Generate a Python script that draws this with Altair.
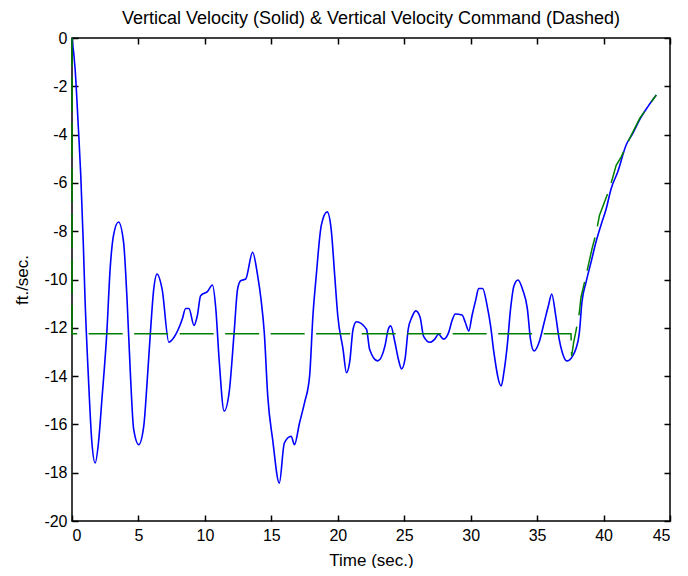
import altair as alt
import pandas as pd

# Vertical velocity (solid, blue)
vel_t = [0.0, 0.23, 0.48, 0.66, 0.85, 0.98, 1.23, 1.49, 1.74, 1.99, 2.25, 2.62, 2.87, 3.12, 3.5,
         3.88, 4.14, 4.39, 4.64, 5.02, 5.4, 5.65, 5.9, 6.15, 6.4, 6.78, 7.29, 7.67, 8.3, 8.55,
         8.8, 9.18, 9.43, 9.68, 10.19, 10.57, 10.82, 11.07, 11.45, 11.82, 12.2, 12.46, 12.7, 13.07,
         13.59, 13.97, 14.22, 14.47, 14.73, 15.1, 15.6, 15.98, 16.49, 16.74, 17.12, 17.5, 17.88,
         18.13, 18.38, 18.76, 19.2, 19.5, 19.77, 20.0, 20.4, 20.65, 20.9, 21.15, 21.4, 22.16,
         22.4, 23.0, 23.55, 23.8, 23.98, 24.3, 24.56, 24.8, 25.06, 25.3, 25.57, 25.87, 26.2,
         26.45, 26.95, 27.3, 27.58, 27.96, 28.34, 28.6, 28.84, 29.35, 29.6, 29.86, 30.1, 30.4,
         30.6, 30.9, 31.24, 31.5, 31.75, 32.3, 32.5, 32.75, 33.0, 33.26, 33.56, 33.9, 34.27,
         34.5, 34.77, 35.15, 35.53, 35.85, 36.1, 36.4, 36.66, 36.9, 37.24, 37.67, 37.9, 38.18,
         38.37, 38.68, 39.06, 39.43, 39.8, 40.2, 40.57, 41.07, 41.7, 42.2, 42.7, 43.34, 43.97]
vel_v = [0.0, -1.25, -3.74, -5.68, -8.5, -10.8, -14.0, -16.7, -17.6, -16.77, -14.97, -12.2, -9.56,
         -8.18, -7.62, -8.45, -10.8, -13.86, -16.2, -16.84, -16.07, -14.27, -12.2, -10.4, -9.77,
         -10.4, -12.6, -12.4, -11.64, -11.2, -11.2, -11.9, -11.5, -10.67, -10.5, -10.23, -11.2,
         -13.3, -15.45, -14.7, -12.2, -10.4, -10.05, -9.98, -8.87, -9.84, -10.8, -12.2, -14.83,
         -16.63, -18.43, -16.77, -16.49, -16.84, -15.94, -15.1, -14.0, -11.5, -9.84, -7.76, -7.2,
         -7.9, -9.84, -11.5, -12.9, -13.86, -13.4, -12.06, -11.75, -12.06, -12.9, -13.37, -12.75,
         -12.06, -11.92, -12.6, -13.3, -13.7, -13.3, -12.06, -11.57, -11.3, -11.57, -12.34, -12.6,
         -12.47, -12.27, -12.47, -12.2, -11.7, -11.43, -11.47, -11.78, -12.13, -11.5, -10.8,
         -10.37, -10.37, -11.09, -11.92, -13.03, -14.41, -13.85, -12.75, -11.23, -10.26, -10.02,
         -10.4, -11.23, -12.47, -12.96, -12.6, -11.78, -11.09, -10.6, -11.5, -12.47, -13.03,
         -13.37, -13.17, -12.9, -12.2, -10.95, -10.12, -9.28, -8.45, -7.76, -7.07, -6.24, -5.54,
         -4.43, -3.95, -3.4, -2.84, -2.36]

# Vertical velocity command (dashed, green)
cmd_t = [0.0, 0.0, 37.55, 37.6, 37.75, 37.9, 38.18, 38.3, 38.68, 39.13, 39.43, 39.69, 40.07,
         40.45, 40.95, 41.33, 41.96, 42.72, 43.34, 43.97]
cmd_v = [0.0, -12.25, -12.25, -13.17, -12.6, -12.2, -11.36, -10.74, -9.84, -8.73, -8.1, -7.35,
         -6.79, -6.24, -5.27, -4.92, -4.16, -3.33, -2.84, -2.36]

x_ticks = list(range(0, 46, 5))
y_ticks = list(range(-20, 1, 2))

vel = pd.DataFrame({"t": vel_t, "v": vel_v, "i": range(len(vel_t))})
cmd = pd.DataFrame({"t": cmd_t, "v": cmd_v, "i": range(len(cmd_t))})

FONT = "Liberation Sans"
xs = alt.Scale(domain=[0, 45], nice=False, zero=False)
ys = alt.Scale(domain=[-20, 0], nice=False, zero=False)
HYPHEN = "replace(datum.label, '\u2212', '-')"

common_axis = dict(offset=-6, ticks=True, tickSize=6, tickColor="black", tickWidth=1.5,
                   tickOpacity=1, domain=False, grid=False,
                   labelFont=FONT, labelFontSize=16, labelColor="black",
                   titleFont=FONT, titleFontSize=17, titleColor="black", titleFontWeight="normal")

blue = alt.Chart(vel).mark_line(color="#0000FF", strokeWidth=1.6, interpolate="monotone").encode(
    x=alt.X("t:Q", scale=xs,
            axis=alt.Axis(orient="bottom", values=x_ticks, title="Time (sec.)",
                          labelPadding=6, titlePadding=9, labelExpr=HYPHEN, **common_axis)),
    y=alt.Y("v:Q", scale=ys,
            axis=alt.Axis(orient="left", values=y_ticks, title="ft./sec.",
                          labelPadding=5, titlePadding=12, labelExpr=HYPHEN, **common_axis)),
    order="i:Q",
)

green = alt.Chart(cmd).mark_line(color="#008000", strokeWidth=1.5, strokeDash=[34, 11.5],
                                 strokeDashOffset=6).encode(
    x=alt.X("t:Q", scale=xs,
            axis=alt.Axis(orient="top", values=x_ticks, title=None, labels=False, **common_axis)),
    y=alt.Y("v:Q", scale=ys,
            axis=alt.Axis(orient="right", values=y_ticks, title=None, labels=False, **common_axis)),
    order="i:Q",
)

chart = alt.layer(blue, green).resolve_axis(x="independent", y="independent").properties(
    width=598,
    height=483,
    autosize=alt.AutoSizeParams(type="none"),
    padding={"left": 64, "top": 30, "right": 10, "bottom": 47},
    title=alt.TitleParams("Vertical Velocity (Solid) & Vertical Velocity Command (Dashed)",
                          font=FONT, fontSize=18, fontWeight="normal", color="black",
                          offset=2, anchor="middle"),
    background="white",
).configure_view(stroke="black", strokeWidth=1.5)

chart.save("out.html", embed_options={"renderer": "svg", "actions": False})
